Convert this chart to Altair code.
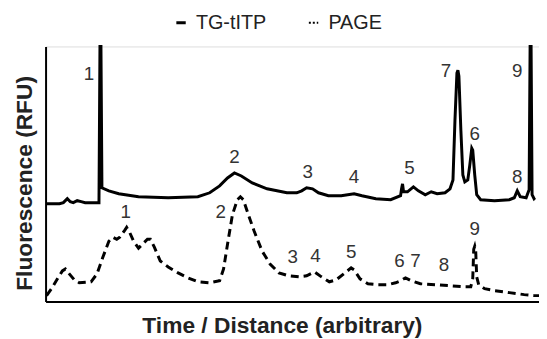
import altair as alt
import pandas as pd

# TG-tITP trace (arbitrary units)
tg_x = [1, 14, 18, 22, 25, 28, 32, 36, 40, 54, 55, 56, 57, 64, 74, 94, 124, 154, 166, 176, 184, 191, 198, 209, 224, 244,
        254, 259, 264, 270, 276, 286, 299, 312, 320, 334, 349, 359, 360, 361, 362, 366, 372, 377, 384, 390, 396, 404,
        409, 412, 414, 416, 417, 418, 420, 422, 424, 427, 429, 431, 432, 434, 436, 440, 454, 469, 474, 477, 480, 486,
        489, 490, 491, 492, 494, 495]
tg_y = [99, 99, 100, 104, 101, 100, 102, 101, 100, 100, 258, 258, 115, 112, 109, 106, 105, 106, 110, 117, 125, 130, 127,
        120, 114, 110, 110, 112, 115, 114, 110, 107, 107, 109, 107, 104, 103, 107, 114, 119, 111, 111, 116, 112, 108,
        111, 109, 110, 114, 123, 183, 231, 234, 228, 173, 128, 121, 123, 138, 155, 153, 128, 108, 103, 102, 103, 105,
        112, 106, 105, 113, 258, 258, 108, 104, 105]

# PAGE trace (arbitrary units)
pg_x = [1, 6, 12, 17, 20, 24, 29, 34, 46, 52, 58, 64, 68, 72, 75, 80, 82, 85, 89, 94, 99, 103, 106, 110, 116, 124, 134,
        144, 154, 166, 176, 180, 184, 189, 194, 197, 200, 204, 211, 219, 227, 236, 246, 256, 264, 272, 279, 287, 294,
        304, 309, 312, 318, 326, 336, 346, 354, 359, 364, 370, 379, 394, 409, 424, 430, 432, 433, 434, 435, 436, 438,
        444, 454, 469, 484, 494, 499]
pg_y = [6, 13, 23, 31, 33, 28, 22, 19, 20, 28, 45, 61, 65, 63, 65, 72, 75, 70, 61, 54, 59, 63, 63, 55, 41, 35, 29, 24,
        20, 19, 21, 33, 58, 88, 103, 106, 103, 91, 71, 51, 38, 29, 26, 25, 26, 30, 25, 20, 22, 30, 34, 32, 23, 18, 17,
        17, 19, 21, 24, 21, 18, 17, 16, 15, 15, 23, 53, 56, 51, 25, 17, 13, 11, 9, 7, 6, 6]

# peak labels
tg_lab = ["1", "2", "3", "4", "5", "7", "6", "8", "9"]
tg_lab_x = [44, 191, 265, 312, 368, 405, 434, 477, 477]
tg_lab_y = [230, 146, 131, 126, 135, 233, 169, 126, 233]
pg_lab = ["1", "2", "3", "4", "5", "6", "7", "8", "9"]
pg_lab_x = [81, 177, 250, 273, 309, 358, 374, 403, 434]
pg_lab_y = [90, 90, 45, 46, 50, 41, 41, 37, 73]

series = ["TG-tITP", "PAGE"]

tg = pd.DataFrame({"x": tg_x, "y": tg_y, "s": series[0], "o": range(len(tg_x))})
pg = pd.DataFrame({"x": pg_x, "y": pg_y, "s": series[1], "o": range(len(pg_x))})
labels = pd.DataFrame({
    "x": tg_lab_x + pg_lab_x,
    "y": tg_lab_y + pg_lab_y,
    "t": tg_lab + pg_lab,
})

xs = alt.Scale(domain=[0, 499], nice=False, zero=False)
ys = alt.Scale(domain=[0, 258], nice=False, zero=False)

xax = alt.Axis(title="Time / Distance (arbitrary)", labels=False, ticks=False, grid=False,
               domainColor="#000", domainWidth=2, titleFontSize=23, titleFontWeight="bold",
               titleColor="#222", titleFont="Liberation Sans", titleX=239, titleY=24,
               titleAlign="center", titleBaseline="middle")
yax = alt.Axis(title="Fluorescence (RFU)", labels=False, ticks=False, grid=False,
               domainColor="#000", domainWidth=2, titleFontSize=23, titleFontWeight="bold",
               titleColor="#222", titleFont="Liberation Sans", titleX=-21, titleY=138,
               titleBaseline="middle", titleAlign="center")


def leg(x, dash, sw):
    return alt.Legend(title=None, orient="none", direction="horizontal", legendX=x, legendY=-34,
                      symbolType="stroke", symbolSize=90, symbolStrokeWidth=sw, symbolDash=dash,
                      symbolStrokeColor="#000",
                      labelFontSize=20, labelFont="Liberation Sans", labelColor="#222", labelOffset=5)


tg_line = alt.Chart(tg).mark_line(strokeWidth=3, color="#000").encode(
    x=alt.X("x:Q", scale=xs, axis=xax),
    y=alt.Y("y:Q", scale=ys, axis=yax),
    order="o:Q",
    color=alt.Color("s:N", scale=alt.Scale(domain=[series[0]], range=["#000"]), legend=leg(127, [1, 0], 3)),
)
pg_line = alt.Chart(pg).mark_line(strokeWidth=3, strokeDash=[8, 5]).encode(
    x=alt.X("x:Q", scale=xs, axis=xax),
    y=alt.Y("y:Q", scale=ys, axis=yax),
    order="o:Q",
    color=alt.Color("s:N", scale=alt.Scale(domain=[series[1]], range=["#000"]), legend=leg(261, [2, 2], 2)),
)

text = alt.Chart(labels).mark_text(fontSize=19, font="Liberation Sans", color="#333",
                                   align="center", baseline="middle").encode(
    x=alt.X("x:Q", scale=xs), y=alt.Y("y:Q", scale=ys), text="t:N")

chart = (tg_line + pg_line + text).resolve_scale(color="independent").resolve_legend(
    color="independent").properties(
    width=499, height=258,
    autosize=alt.AutoSizeParams(type="none"),
    padding={"left": 38, "top": 37, "right": 0, "bottom": 36},
).configure_view(stroke=None).configure(background="white")

chart.save("out.html", embed_options={"renderer": "svg", "actions": False})
